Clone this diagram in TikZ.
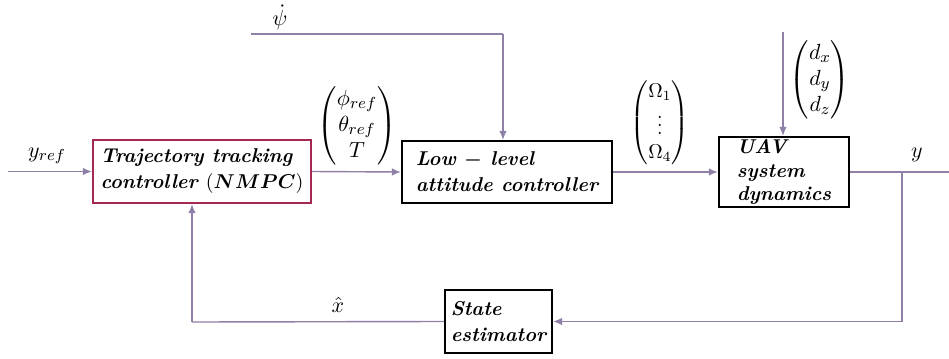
\documentclass[tikz,border=0pt]{standalone}
\usepackage{amsmath}
\usetikzlibrary{arrows.meta}
\definecolor{wire}{RGB}{143,128,168}
\definecolor{nmpcred}{RGB}{163,40,82}
\tikzset{
  blk/.style={draw=black, line width=1.1pt, fill=white, align=left,
    font=\fontsize{10}{13}\selectfont\bfseries\itshape, inner sep=1pt},
  wireline/.style={draw=wire, line width=0.7pt},
  sig/.style={wireline, -{Latex[length=4.5pt,width=3.8pt]}},
  lbl/.style={font=\fontsize{11}{13}\selectfont, inner sep=0pt}
}
\begin{document}
\begin{tikzpicture}[x=0.5pt, y=-0.5pt]
\useasboundingbox (0,0) rectangle (949,359);

% blocks
\node[blk, draw=nmpcred, minimum width=109pt, minimum height=31.5pt] (traj) at (202,171.5)
  {Trajectory tracking\\controller $(\boldsymbol{NMPC})$};
\node[blk, minimum width=105pt, minimum height=31pt] (low) at (507,172)
  {Low $\boldsymbol{-}$ level\\attitude controller};
\node[blk, minimum width=65pt, minimum height=35pt,
      font=\fontsize{10}{11.6}\selectfont\bfseries\itshape] (uav) at (784,172)
  {UAV\\system\\dynamics};
\node[blk, minimum width=53.5pt, minimum height=31.5pt] (est) at (498.5,321.5)
  {State\\estimator};

% free ends and corners
\coordinate (yin) at (8,171.5);
\coordinate (psistart) at (251,34);
\coordinate (psicorner) at (503,34);
\coordinate (dtop) at (783,32);
\coordinate (branch) at (902,172);
\coordinate (yout) at (949,172);
\coordinate (fbcorner) at (192,322);

% signal paths
\draw[sig] (yin) -- (traj.west);
\draw[sig] (traj.east) -- (low.west);
\draw[sig] (low.east) -- (uav.west);
\draw[wireline] (psistart) -- (psicorner);
\draw[sig] (psicorner) -- (psicorner |- low.north);
\draw[sig] (dtop) -- (dtop |- uav.north);
\draw[wireline] (uav.east) -- (yout);
\draw[sig] (branch) |- (est.east);
\draw[wireline] (est.west) -- (fbcorner);
\draw[sig] (fbcorner) -- (fbcorner |- traj.south);

% signal labels
\node[lbl] (lyref) at (47,156) {$y_{ref}$};
\node[lbl] (lpsi) at (280,17) {$\dot{\psi}$};
\node[lbl] (lang) at (357,126) {$\begin{pmatrix}\phi_{ref}\\ \theta_{ref}\\ T\end{pmatrix}$};
\node[lbl, font=\fontsize{10}{12}\selectfont] (lomega) at (660,123) {$\begin{pmatrix}\Omega_1\\ \vdots\\ \Omega_4\end{pmatrix}$};
\node[lbl] (ldist) at (820,80) {$\begin{pmatrix}d_x\\ d_y\\ d_z\end{pmatrix}$};
\node[lbl] (ly) at (917,155) {$y$};
\node[lbl] (lxhat) at (338,305) {$\hat{x}$};
\end{tikzpicture}
\end{document}
